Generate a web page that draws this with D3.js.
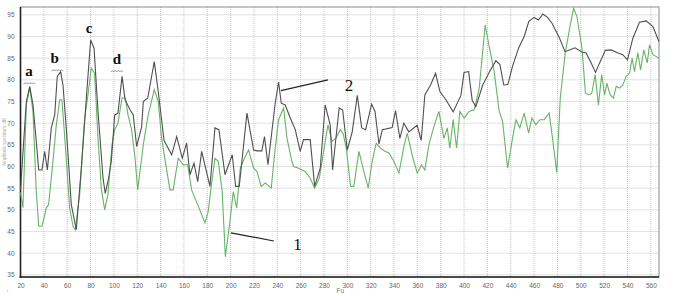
<!DOCTYPE html>
<html>
<head>
<meta charset="utf-8">
<script src="https://cdn.jsdelivr.net/npm/d3@7"></script>
<style>
  html, body { margin: 0; padding: 0; background: #fff; }
  svg { display: block; }
  .tick text { font-family: "Liberation Sans", Arial, sans-serif; font-size: 6.5px; fill: #666; }
  .grid line { stroke: #c4c4c4; stroke-dasharray: 1,1; }
</style>
</head>
<body>
<svg id="chart" width="674" height="296"></svg>
<script>
"use strict";

// tick values
var xTicks = d3.range(20, 561, 20);
var yTicks = d3.range(35, 96, 5);

// curve 1 (green)
var series1 = [
  [20, 54], [22.1, 50.5], [25, 74.2], [27.9, 78.1], [30.7, 72.7], [33.5, 54.2], [35.6, 46.2], [38.4, 46.2],
  [42.1, 50.4], [44.1, 51.2], [47.8, 61.2], [50.7, 69.6], [53.6, 75.4], [55.5, 75.4], [59.2, 61.9], [62.1, 50.4],
  [65, 46.2], [66.9, 45.4], [70.7, 53.5], [75, 71.2], [77.8, 76.5], [80.6, 82.7], [83.5, 81.5], [86.4, 66.5],
  [89.2, 55], [92.1, 50], [94.9, 53.5], [98.4, 65], [100.7, 68.5], [103.5, 70], [107, 75.8], [109.8, 75.8],
  [112.1, 71.9], [115.2, 68.5], [118.1, 62], [120.4, 54.6], [125.2, 65], [129.4, 71.9], [134.6, 77.7], [138, 75],
  [140.9, 66.5], [148, 54.6], [150.8, 54.6], [155.1, 61.9], [159.4, 60.4], [163.2, 60.4], [166.6, 54.6], [171.8, 51.2],
  [178, 47], [180.8, 49.6], [183.2, 55], [186.6, 61.9], [189.4, 61.2], [192.8, 54.2], [195.5, 39.2], [199.4, 47.3],
  [202.3, 54.2], [205.2, 50.4], [208.3, 59.6], [212.5, 62.3], [215.4, 63.8], [219.7, 59.6], [222.6, 58.8], [226.2, 55.4],
  [229.7, 56.2], [234.8, 55], [238.2, 64.2], [241.1, 70.8], [245.4, 73.5], [248.3, 66.5], [252.5, 61.2], [254, 60],
  [258.3, 59.6], [264, 58.8], [268.2, 57.3], [272, 55], [276, 57.3], [279.7, 63.5], [283.4, 69.6], [286.8, 65.8],
  [290.2, 66.5], [293.9, 68.5], [296.5, 67.5], [299.1, 64.2], [302.8, 55.4], [305.6, 55.4], [309.9, 63.5], [314.2, 58.8],
  [317.9, 55], [321.3, 61.2], [324.7, 65.4], [328.5, 64.2], [332.2, 63.5], [335.6, 63.1], [339.9, 61.2], [344.2, 58.5],
  [348.4, 64.6], [351.3, 67.7], [356.2, 61.9], [359.9, 58.5], [363.6, 60.4], [366.4, 59.2], [369.9, 65], [374.1, 69.2],
  [378.4, 72.7], [382.7, 66.5], [385.6, 68.9], [387.8, 64.2], [390.7, 70.8], [393.6, 64.2], [396.4, 72.7], [400.1, 71.2],
  [404.4, 72.7], [408.7, 73.1], [413, 78.1], [418.1, 92.7], [421.5, 87.7], [425.8, 81.9], [430.1, 72.7], [433, 70.4],
  [437.3, 59.6], [441.5, 66.5], [444.4, 70.8], [447.8, 68.9], [451.5, 72.3], [455.3, 67.7], [458.1, 71.2], [461.5, 69.6],
  [465, 70.8], [468.6, 70.8], [472.9, 72.3], [475.8, 66.5], [479.4, 58.6], [482.4, 75.8], [486.7, 86.2], [491, 92.7],
  [493.9, 96.5], [496.7, 94.6], [501, 87.3], [504, 76.9], [506.6, 76.5], [509.4, 76.9], [512.3, 81.2], [515.1, 74.2],
  [517.9, 81.2], [520.4, 76.5], [522.3, 79.2], [525.2, 76.5], [528, 75.8], [530.3, 78.5], [533.2, 78.1], [536, 78.8],
  [538.9, 80.8], [541.8, 81.5], [544, 85], [546, 81.9], [548.9, 86.2], [551.2, 82.3], [554, 86.9], [556.9, 83.9],
  [558.9, 88.1], [561.8, 85.8], [567, 85]
];

// curve 2 (dark grey)
var series2 = [
  [20, 54.6], [25, 75], [27.9, 78.5], [30.7, 74.2], [33.5, 65.8], [35.6, 59.2], [38.4, 59.2], [40.7, 63.5],
  [43, 59.2], [46.4, 68.9], [49.3, 71.9], [51.5, 80.8], [54.4, 81.9], [56.4, 78.8], [59.2, 68.9], [63.5, 51.2],
  [67.8, 45.4], [72.1, 59.6], [76.4, 75.8], [80.1, 89.2], [83, 87.3], [86.4, 72.7], [90.7, 57.3], [92.6, 53.8],
  [95.5, 57.3], [97.8, 61.2], [100.7, 71.9], [103.5, 72.3], [107, 80.8], [109.6, 75.4], [113.8, 73.1], [116.6, 71.9],
  [119.5, 64.6], [123.8, 69.2], [125.2, 75], [129, 75.8], [134.6, 84.2], [138, 77.3], [143, 66], [149.5, 62.7],
  [153.8, 66.9], [158.6, 61.9], [162.3, 65.4], [165.2, 58.1], [168.6, 60.8], [171.8, 56.5], [175.2, 63.5], [182.3, 55.4],
  [186.6, 68.9], [190, 68.5], [195.2, 58.1], [201.4, 62.7], [204.3, 55.4], [207.4, 55.4], [214, 72.3], [219.7, 63.8],
  [222.6, 63.6], [226.8, 63.6], [229, 66.9], [232, 60.4], [238.2, 74.6], [241.1, 79.5], [243.4, 74.6], [246.8, 74.2],
  [251.1, 71.2], [255.4, 68.5], [259.6, 63.5], [262.5, 66.2], [268.2, 66.2], [272, 55.4], [276.8, 59.6], [281, 74.2],
  [285.3, 69.6], [287.4, 59.2], [289.6, 65], [293, 73.5], [296, 73], [299.9, 63.8], [304.2, 68], [308.5, 76.4],
  [312.3, 68.9], [315.7, 68.5], [320.8, 74.4], [323.7, 72.7], [327.1, 65.2], [330, 68.5], [338.4, 69], [341.3, 72.9],
  [345, 66.5], [348.4, 70], [352.7, 68], [359.8, 69.5], [363.3, 66], [366.4, 76.5], [371.3, 78.8], [375.6, 81.5],
  [379.3, 77.3], [384.4, 75.4], [390.7, 72.6], [397.3, 76.4], [400, 81.7], [403.9, 81.9], [407, 75.2], [410.1, 73.8],
  [416, 78.8], [422, 82], [427.2, 84.4], [430.7, 83.5], [434, 78.8], [437.5, 78.9], [441.5, 83.1], [446.7, 87.3],
  [451.5, 90], [455.5, 93.5], [460, 94.4], [463.8, 93.8], [467.5, 95.2], [471.5, 94.4], [475.5, 93], [481.8, 89.6],
  [486.5, 86.5], [490.3, 86.9], [495, 87.4], [501, 86.4], [504.6, 86.2], [508.9, 83.9], [512.6, 81.7], [516.1, 83.9],
  [521, 86.8], [526, 86.9], [532, 86.2], [536, 85.8], [540, 84.6], [544.6, 89.6], [550.3, 93.3], [556, 93.6],
  [561.8, 92.3], [567, 88.8]
];

// peak letters: label, x, y (data units)
var peakLabels = [["a", 27.3, 80.9], ["b", 49.3, 83.9], ["c", 78.7, 90.9], ["d", 102.6, 83.6]];
// little wavy underlines below a, b, d
var peakWaves = [[27.6, 79.2], [51.5, 82.2], [102.6, 82.0]];

// curve callouts: label, line start, line end, text position
var callouts = [
  ["1", [200.3, 44.7], [237.1, 42.8], [257.2, 40.8]],
  ["2", [243.1, 77.5], [283.4, 80], [301.4, 77.5]]
];

(function () {
  var svg = d3.select("#chart");
  var x = d3.scaleLinear().domain([20, 567]).range([20.5, 659]);
  var y = d3.scaleLinear().domain([34.5, 96.8]).range([277, 7]);

  var x0 = x.range()[0], x1 = x.range()[1], y0 = y.range()[1], y1 = y.range()[0];

  // grid
  svg.append("g").attr("class", "grid")
    .selectAll("line").data(xTicks.slice(1)).enter().append("line")
    .attr("x1", function (d) { return x(d); }).attr("x2", function (d) { return x(d); })
    .attr("y1", y0).attr("y2", y1);
  svg.append("g").attr("class", "grid")
    .selectAll("line").data(yTicks).enter().append("line")
    .attr("x1", x0).attr("x2", x1)
    .attr("y1", function (d) { return y(d); }).attr("y2", function (d) { return y(d); });

  // frame
  svg.append("rect").attr("x", x0).attr("y", y0)
    .attr("width", x1 - x0).attr("height", y1 - y0)
    .attr("fill", "none").attr("stroke", "#8a8a8a").attr("stroke-width", 1);

  // axes (labels only, lines drawn separately)
  var xAxis = svg.append("g").attr("transform", "translate(0," + y1 + ")")
    .call(d3.axisBottom(x).tickValues(xTicks).tickSize(0).tickPadding(6));
  var yAxis = svg.append("g").attr("transform", "translate(" + x0 + ",0)")
    .call(d3.axisLeft(y).tickValues(yTicks).tickSize(0).tickPadding(6));
  xAxis.select(".domain").remove();
  yAxis.select(".domain").remove();

  svg.append("line").attr("x1", x0).attr("x2", x0).attr("y1", y0).attr("y2", y1 + 1)
    .attr("stroke", "#222").attr("stroke-width", 1.6);
  svg.append("line").attr("x1", x0 - 1).attr("x2", x1).attr("y1", y1).attr("y2", y1)
    .attr("stroke", "#222").attr("stroke-width", 1.6);

  // axis titles
  svg.append("text").attr("x", (x0 + x1) / 2 + 0.5).attr("y", 293)
    .attr("text-anchor", "middle").attr("font-family", "Liberation Sans, sans-serif")
    .attr("font-size", 6.5).attr("fill", "#777").text("Fu");
  svg.append("text").attr("transform", "translate(6," + ((y0 + y1) / 2) + ") rotate(-90)")
    .attr("text-anchor", "middle").attr("font-family", "Liberation Sans, sans-serif")
    .attr("font-size", 4.5).attr("fill", "#aaa").text("Amplitude spectrum, dB");
  svg.append("text").attr("x", 7).attr("y", 292).attr("font-family", "Liberation Sans, sans-serif")
    .attr("font-size", 4).attr("fill", "#999").text("I");

  // curves
  var line = d3.line()
    .x(function (d) { return x(d[0]); })
    .y(function (d) { return y(d[1]); });

  svg.append("path").datum(series1).attr("d", line)
    .attr("fill", "none").attr("stroke", "#66b466").attr("stroke-width", 1.1);
  svg.append("path").datum(series2).attr("d", line)
    .attr("fill", "none").attr("stroke", "#505050").attr("stroke-width", 1.1);

  // peak letters
  svg.selectAll("text.peak").data(peakLabels).enter().append("text")
    .attr("class", "peak")
    .attr("x", function (d) { return x(d[1]); })
    .attr("y", function (d) { return y(d[2]); })
    .attr("text-anchor", "middle")
    .attr("font-family", "Liberation Serif, serif").attr("font-weight", "bold")
    .attr("font-size", 15).attr("fill", "#111")
    .text(function (d) { return d[0]; });

  // wavy underline: small zigzag around each centre
  var wave = d3.line().curve(d3.curveBasis);
  svg.selectAll("path.wave").data(peakWaves).enter().append("path")
    .attr("class", "wave")
    .attr("d", function (d) {
      var cx = x(d[0]), cy = y(d[1]);
      return wave(d3.range(0, 9).map(function (i) {
        return [cx - 6 + i * 1.5, cy + (i % 2 ? -0.9 : 0.9)];
      }));
    })
    .attr("fill", "none").attr("stroke", "#666").attr("stroke-width", 0.7);

  // callouts
  callouts.forEach(function (c) {
    svg.append("line")
      .attr("x1", x(c[1][0])).attr("y1", y(c[1][1]))
      .attr("x2", x(c[2][0])).attr("y2", y(c[2][1]))
      .attr("stroke", "#222").attr("stroke-width", 1.2);
    svg.append("text")
      .attr("x", x(c[3][0])).attr("y", y(c[3][1]))
      .attr("text-anchor", "middle")
      .attr("font-family", "Liberation Serif, serif")
      .attr("font-size", 17).attr("fill", "#111")
      .text(c[0]);
  });
})();
</script>
</body>
</html>
